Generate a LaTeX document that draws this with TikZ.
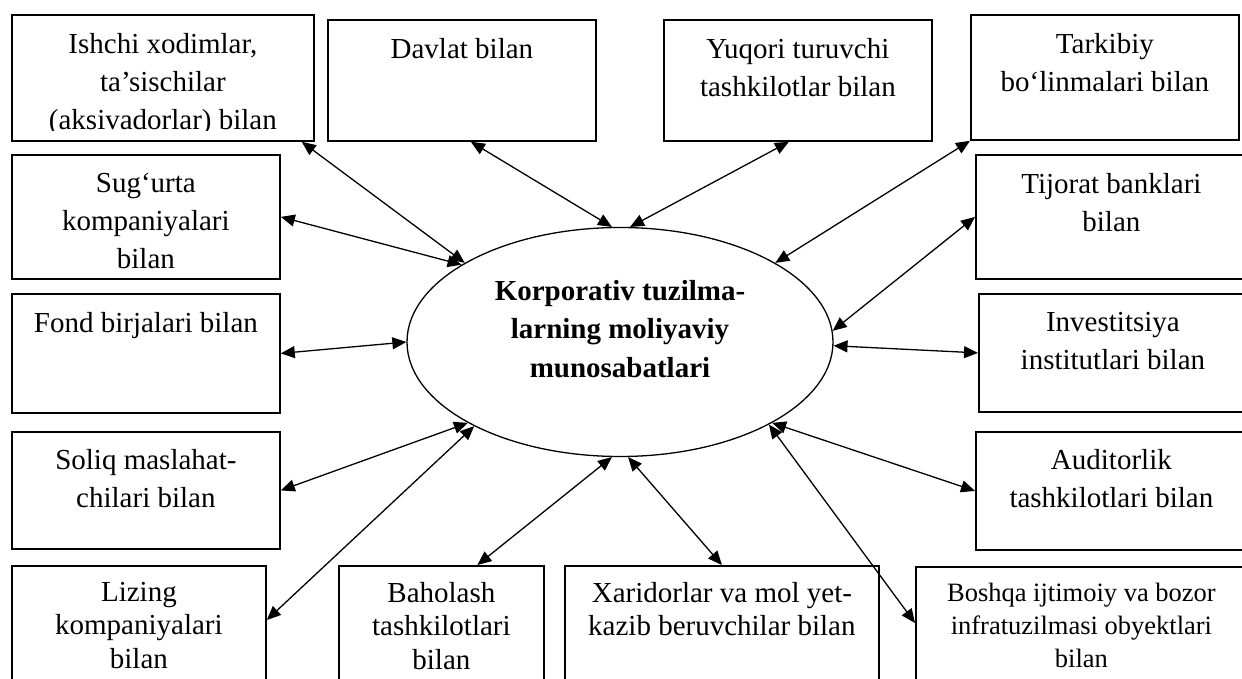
\documentclass[tikz,border=0pt]{standalone}
\RequirePackage{fontspec}
\setmainfont{Liberation Serif}
\RequirePackage{tikz}
\usetikzlibrary{shapes.geometric}
\usetikzlibrary{arrows.meta}
\tikzset{
  box/.style={draw, rectangle, line width=1.8pt, anchor=north west, inner sep=0pt},
  txt/.style={anchor=north, align=center, inner sep=0pt, font=\fontsize{29}{38}\selectfont},
  lowtxt/.style={txt, font=\fontsize{29}{33.5}\selectfont},
  smalltxt/.style={txt, font=\fontsize{26.5}{33}\selectfont},
  link/.style={<->, line width=1.3pt},
}
\begin{document}
\begin{tikzpicture}[>={Triangle[length=14pt,width=12pt]},x=1pt,y=-1pt]
                        \path[use as bounding box,clip] (0,0) rectangle (1242,679);
                        \fill[white] (0,0) rectangle (1242,679);
                        \node[draw,ellipse,line width=1.3pt,minimum width=426,minimum height=229] (K) at (620,342) {};
                        \node[txt,font=\fontsize{29}{38.5}\selectfont\bfseries] (tK) at ([yshift=62pt]K.center)
                            {Korporativ tuzilma-\\larning moliyaviy\\munosabatlari};
                        \node[box,minimum width=302,minimum height=126] (ishchi) at (11,14) {};
                        \node[box,minimum width=268,minimum height=121] (davlat) at (327,19) {};
                        \node[box,minimum width=268,minimum height=121] (yuqori) at (663,19) {};
                        \node[box,minimum width=268,minimum height=125] (tarkib) at (970,14) {};
                        \node[box,minimum width=268,minimum height=124] (sugurta) at (11,154) {};
                        \node[box,minimum width=268,minimum height=119] (fond) at (11,293) {};
                        \node[box,minimum width=268,minimum height=117] (soliq) at (11,431) {};
                        \node[box,minimum width=254,minimum height=135] (lizing) at (11,565) {};
                        \node[box,minimum width=205,minimum height=135] (baho) at (338,565) {};
                        \node[box,minimum width=314,minimum height=135] (xarid) at (564,565) {};
                        \node[box,minimum width=331,minimum height=134] (boshqa) at (915,566) {};
                        \node[box,minimum width=271,minimum height=124] (tijorat) at (975,154) {};
                        \node[box,minimum width=268,minimum height=118] (invest) at (978,293) {};
                        \node[box,minimum width=271,minimum height=118] (audit) at (975,431) {};
                        \begin{scope}
                            \clip (ishchi.north west) rectangle ([yshift=11pt]ishchi.south east);
                            \node[txt] (tishchi) at ([yshift=-19pt]ishchi.north)
                                {Ishchi xodimlar,\\ta’sischilar\\(aksivadorlar) bilan};
                        \end{scope}
                        \begin{scope}
                            \clip (sugurta.north west) rectangle ([yshift=10pt]sugurta.south east);
                            \node[txt] (tsugurta) at ([yshift=-19pt]sugurta.north)
                                {Sug‘urta\\kompaniyalari\\bilan};
                        \end{scope}
                        \node[txt] (tdavlat) at ([yshift=-19pt]davlat.north) {Davlat bilan};
                        \node[txt] (tyuqori) at ([yshift=-19pt]yuqori.north) {Yuqori turuvchi\\tashkilotlar bilan};
                        \node[txt] (ttarkib) at ([yshift=-19pt]tarkib.north) {Tarkibiy\\bo‘linmalari bilan};
                        \node[txt] (tfond) at ([yshift=-19pt]fond.north) {Fond birjalari bilan};
                        \node[txt] (tsoliq) at ([yshift=-18pt]soliq.north) {Soliq maslahat-\\chilari bilan};
                        \node[lowtxt] (tlizing) at ([yshift=-17pt]lizing.north) {Lizing\\kompaniyalari\\bilan};
                        \node[lowtxt] (tbaho) at ([yshift=-17pt]baho.north) {Baholash\\tashkilotlari\\bilan};
                        \node[lowtxt] (txarid) at ([yshift=-17pt]xarid.north) {Xaridorlar va mol yet-\\kazib beruvchilar bilan};
                        \node[smalltxt] (tboshqa) at ([yshift=-17pt]boshqa.north)
                            {Boshqa ijtimoiy va bozor\\infratuzilmasi obyektlari\\bilan};
                        \node[txt] (ttijorat) at ([yshift=-19pt]tijorat.north) {Tijorat banklari\\bilan};
                        \node[txt] (tinvest) at ([yshift=-19pt]invest.north) {Investitsiya\\institutlari bilan};
                        \node[txt] (taudit) at ([yshift=-18pt]audit.north) {Auditorlik\\tashkilotlari bilan};
                        \draw[link] ([xshift=-13pt]ishchi.south east) -- (K.153);
                        \draw[link] (sugurta.east) -- (K.154);
                        \draw[link] ([xshift=9pt]davlat.south) -- (K.94);
                        \draw[link] ([xshift=-9pt]yuqori.south) -- (K.85);
                        \draw[link] (tarkib.south west) -- (K.27);
                        \draw[link] (tijorat.west) -- (K.3);
                        \draw[link] (invest.west) -- (K.-1);
                        \draw[link] (audit.west) -- (K.-28);
                        \draw[link] ([yshift=-57pt]boshqa.north west) -- (K.-29);
                        \draw[link] (xarid.north) -- (K.-86);
                        \draw[link] ([xshift=36pt]baho.north) -- (K.-94);
                        \draw[link] ([yshift=-55pt]lizing.north east) -- (K.210);
                        \draw[link] (soliq.east) -- (K.208);
                        \draw[link] (fond.east) -- (K.180);
                    \end{tikzpicture}
\end{document}
